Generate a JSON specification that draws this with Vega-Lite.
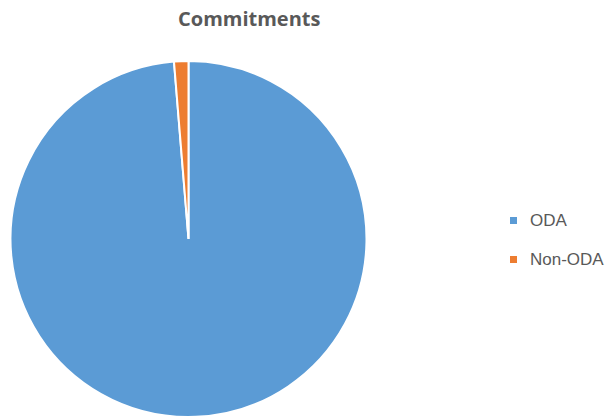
{
  "$schema": "https://vega.github.io/schema/vega-lite/v6.json",
  "width": 377,
  "height": 356,
  "autosize": "none",
  "padding": {"left": 0, "top": 61, "right": 230, "bottom": 1},
  "background": "white",
  "title": {
    "text": "Commitments",
    "anchor": "start",
    "frame": "group",
    "dx": 178,
    "offset": 27,
    "font": "Open Sans",
    "fontSize": 20,
    "fontWeight": "bold",
    "color": "#595959"
  },
  "data": {
    "values": [
      {"category": "ODA", "value": 98.7, "order": 1},
      {"category": "Non-ODA", "value": 1.3, "order": 2}
    ]
  },
  "mark": {"type": "arc", "stroke": "white", "strokeWidth": 2},
  "encoding": {
    "theta": {"field": "value", "type": "quantitative", "stack": true},
    "order": {"field": "order", "type": "quantitative"},
    "color": {
      "field": "category",
      "type": "nominal",
      "sort": ["ODA", "Non-ODA"],
      "scale": {"domain": ["ODA", "Non-ODA"], "range": ["#5B9BD5", "#ED7D31"]},
      "legend": {
        "title": null,
        "orient": "none",
        "legendX": 505,
        "legendY": 151,
        "symbolType": "square",
        "symbolSize": 49,
        "symbolStrokeWidth": 0,
        "labelFont": "Liberation Sans",
        "labelFontSize": 17,
        "labelColor": "#595959",
        "rowPadding": 21,
        "labelOffset": 8
      }
    }
  },
  "config": {"view": {"stroke": null}}
}
